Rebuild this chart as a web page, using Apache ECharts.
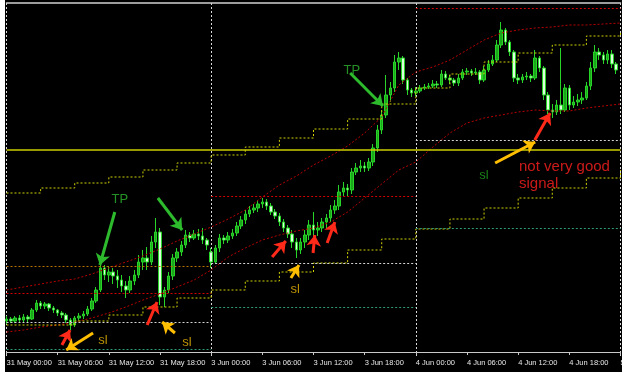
<!DOCTYPE html>
<html>
<head>
<meta charset="utf-8">
<script src="https://cdn.jsdelivr.net/npm/echarts@6.0.0/dist/echarts.min.js"></script>
<style>
  html, body { margin: 0; padding: 0; background: #fff; }
  #chart { position: absolute; left: 5px; top: 0; width: 617px; height: 372px; background: #000; }
</style>
</head>
<body>
<div id="chart"></div>
<script>
// 30 minute bars, 31 May 00:00 .. 4 Jun 23:30 (weekend skipped)
const days = ['31 May', '3 Jun', '4 Jun', '5 Jun'];

// [open, close, low, high]
const candles = [
  [31,33,28,36],[33,31,29,35],[31,34,29,36],[34,32,30,37],[32,35,30,38],[35,33,29,37],[33,42,32,44],[42,49,40,52],
  [49,46,43,51],[46,48,43,50],[48,44,41,49],[44,42,39,46],[42,39,36,43],[39,37,34,41],[37,32,29,39],[32,27,22,34],
  [27,34,25,36],[34,36,31,39],[36,38,33,41],[38,43,36,46],[43,51,41,54],[51,62,49,65],[62,84,60,89],[84,77,72,87],
  [77,80,70,86],[80,76,68,84],[76,72,64,82],[72,66,60,77],[66,62,54,71],[62,71,59,76],[71,77,67,82],[77,90,74,97],
  [90,94,82,102],[94,90,82,105],[90,110,87,116],[110,120,104,134],[120,55,47,124],[55,62,45,65],[62,76,59,80],[76,94,72,98],
  [94,100,90,104],[100,107,96,111],[107,117,104,122],[117,114,110,120],[114,118,112,122],[118,116,112,123],[116,112,108,124],[112,107,102,114],
  [100,90,84,104],[90,104,88,107],[104,114,100,118],[114,112,108,117],[112,116,109,120],[116,119,113,123],[119,126,116,130],[126,132,123,136],
  [132,138,128,142],[138,142,135,146],[142,144,139,148],[144,148,140,152],[148,150,144,154],[150,146,142,153],[146,140,137,149],[140,136,133,143],
  [136,130,126,139],[130,124,120,133],[124,118,114,127],[118,110,104,122],[110,102,94,114],[102,110,98,114],[110,117,104,122],[117,127,112,132],
  [127,122,114,140],[122,124,116,130],[124,130,120,134],[130,134,124,138],[134,142,130,147],[142,146,138,152],[146,160,142,167],[160,164,156,170],
  [164,162,156,168],[162,180,158,184],[180,184,177,189],[184,186,180,192],[186,184,180,190],[184,190,181,194],[190,204,186,208],[204,222,200,227],
  [222,237,218,242],[237,257,234,277],[257,264,250,270],[264,290,260,297],[290,294,282,300],[294,272,268,296],[272,262,257,274],[262,259,255,264],
  [259,261,256,265],[261,264,259,267],[264,265,262,268],[265,266,263,269],[266,268,264,272],[268,267,264,271],[267,278,265,282],[278,274,272,281],
  [274,272,268,277],[272,269,266,274],[269,274,266,278],[274,280,272,283],[280,281,277,284],[281,279,276,283],[279,280,277,284],[280,272,268,282],
  [272,282,270,286],[282,288,280,292],[288,292,286,297],[292,307,290,312],[307,322,304,330],[322,310,307,324],[310,300,296,312],[300,274,270,302],
  [274,272,268,278],[272,275,269,278],[275,276,272,280],[276,274,270,278],[274,294,272,302],[294,284,280,296],[284,257,252,286],[257,242,238,260],
  [242,240,234,248],[240,247,237,252],[247,242,238,304],[242,264,240,268],[264,247,242,267],[247,250,244,256],[250,252,246,258],[252,254,248,260],
  [254,266,252,270],[266,284,262,290],[284,300,280,307],[300,297,292,304],[297,292,288,300],[292,298,288,302],[298,288,284,302],[288,282,278,290]
];

// channel bands, sampled every 4 bars (bar 0, 4, 8 ... 144)
const upperBand = [62,65,68,71,73,78,84,90,96,103,111,118,125,133,142,155,167,176,187,196,206,219,235,267,280,285,292,302,312,319,322,324,325,327,327,328,329];
const lowerBand = [20,22,25,27,30,34,39,45,52,58,65,72,82,95,104,112,117,121,124,130,140,154,168,182,190,205,219,229,234,237,240,242,241,241,244,246,248];

// 4h step lines (one value per 8 bars, last one is the edge)
const upperStop = [159,164,169,175,182,189,197,205,214,223,233,248,264,278,290,299,307,316,319];
const lowerStop = [27,27,31,37,45,54,62,71,80,89,102,113,123,133,144,154,164,174,182];

// daily levels (31 May, 3 Jun, 4 Jun)
const orangeLevel = [86, null, null];
const redLevel = [59, 156, 344];
const whiteLevel = [30, 89, 212];
const tealLevel = [3, 45, 124];
const weeklyLevel = 202;

// drawn arrows: [fromBar, fromPrice, toBar, toPrice, colour]
const arrows = [
  [25.4, 140, 21.9, 87, '#2dbb2d'],
  [35.5, 154, 41.2, 122, '#2dbb2d'],
  [80.6, 279, 88.3, 246, '#2dbb2d'],
  [13.0, 7, 14.9, 22, '#ff2a1a'],
  [33.0, 27, 35.3, 50, '#ff2a1a'],
  [62.3, 95, 65.5, 111, '#ff2a1a'],
  [71.9, 99, 72.3, 117, '#ff2a1a'],
  [75.2, 109, 77.0, 130, '#ff2a1a'],
  [123.9, 212, 127.5, 239, '#ff2a1a'],
  [20.3, 19, 14.0, 2, '#ffbf00'],
  [39.5, 19, 36.5, 30, '#ffbf00'],
  [66.7, 74, 68.6, 87, '#ffbf00'],
  [114.6, 189, 124.0, 210, '#ffbf00']
];

// text notes: [bar, price, text, colour, size, align]
const notes = [
  [26.6, 153, 'TP', '#2db52d', 13, 'center'],
  [81.0, 282, 'TP', '#2db52d', 13, 'center'],
  [22.6, 12, 'sl', '#e8b400', 13, 'center'],
  [42.3, 10, 'sl', '#e8b400', 13, 'center'],
  [67.7, 63, 'sl', '#e8b400', 13, 'center'],
  [112.0, 177, 'sl', '#1fa01f', 13, 'center'],
  [120.2, 185, 'not very good', '#ff2020', 15, 'left'],
  [120.2, 168, 'signal', '#ff2020', 15, 'left']
];

const times = [];
for (let d = 0; d < 3; d++) {
  for (let h = 0; h < 48; h++) {
    times.push(days[d] + ' ' + String(Math.floor(h / 2)).padStart(2, '0') + ':' + (h % 2 ? '30' : '00'));
  }
}
times.push(days[3] + ' 00:00');

const bandData = (arr) => arr.map((v, i) => [i * 4, v]);
const stopData = (arr) => arr.map((v, i) => [i * 8, v]);
const dots = [2, 2];

function levelSegs(arr, color) {
  const out = [];
  arr.forEach((v, d) => {
    if (v == null) return;
    out.push([
      { coord: [d * 48, v], lineStyle: { color: color, type: dots, width: 1 } },
      { coord: [d * 48 + 48, v] }
    ]);
  });
  return out;
}

const myChart = echarts.init(document.getElementById('chart'));
const option = {
  backgroundColor: '#000',
  animation: false,
  grid: { left: 1.5, right: 1.5, top: 3, bottom: 16, containLabel: false, outerBoundsMode: 'none' },
  xAxis: [{
    type: 'category',
    data: times,
    boundaryGap: false,
    axisLine: { lineStyle: { color: '#c8c8c8', width: 1 } },
    axisTick: { interval: 11, length: 3, lineStyle: { color: '#c8c8c8' } },
    axisLabel: {
      interval: 11,
      align: 'left',
      margin: 3,
      color: '#e6e6e6',
      fontSize: 7.5,
      fontFamily: 'Liberation Sans',
      showMaxLabel: true,
      hideOverlap: false
    },
    splitLine: {
      show: true,
      interval: (i) => i % 48 === 0,
      lineStyle: { color: '#d8d8d8', type: dots, width: 1 }
    }
  }, {
    type: 'value',
    min: 0,
    max: 144,
    position: 'top',
    axisLine: { show: true, lineStyle: { color: '#d0d0d0', width: 1.5 } },
    axisTick: { show: false },
    axisLabel: { show: false },
    splitLine: { show: false }
  }],
  yAxis: {
    type: 'value',
    min: -4,
    max: 349,
    show: false,
    splitLine: { show: false }
  },
  series: [{
    name: 'price',
    type: 'candlestick',
    data: candles,
    barWidth: 3,
    itemStyle: {
      color: '#1aa81a',
      color0: '#dcffdc',
      borderColor: '#28d428',
      borderColor0: '#28d428',
      borderWidth: 1
    },
    z: 2
  }, {
    name: 'upper band',
    type: 'line',
    xAxisIndex: 1,
    data: bandData(upperBand),
    symbol: 'none',
    lineStyle: { color: '#b80000', type: dots, width: 1 },
    z: 3,
    markLine: {
      silent: true,
      symbol: ['none', 'arrow'],
      symbolSize: 11,
      label: { show: false },
      data: arrows.map(a => [
        { coord: [a[0], a[1]], lineStyle: { color: a[4], type: 'solid', width: 3 }, itemStyle: { color: a[4] } },
        { coord: [a[2], a[3]] }
      ]),
      z: 6
    }
  }, {
    name: 'lower band',
    type: 'line',
    xAxisIndex: 1,
    data: bandData(lowerBand),
    symbol: 'none',
    lineStyle: { color: '#b80000', type: dots, width: 1 },
    z: 3,
    markLine: {
      silent: true,
      symbol: 'none',
      label: { show: false },
      data: [].concat(
        levelSegs(orangeLevel, '#b87000'),
        levelSegs(redLevel, '#d00000'),
        levelSegs(whiteLevel, '#d4d4d4'),
        levelSegs(tealLevel, '#2e9a76'),
        [[
          { coord: [0, weeklyLevel], lineStyle: { color: '#cccc00', type: 'solid', width: 1.5 } },
          { coord: [144, weeklyLevel] }
        ]]
      )
    }
  }, {
    name: 'upper stop',
    type: 'line',
    xAxisIndex: 1,
    step: 'end',
    data: stopData(upperStop),
    symbol: 'none',
    lineStyle: { color: '#d0d000', type: dots, width: 1 },
    z: 4
  }, {
    name: 'lower stop',
    type: 'line',
    xAxisIndex: 1,
    step: 'end',
    data: stopData(lowerStop),
    symbol: 'none',
    lineStyle: { color: '#d0d000', type: dots, width: 1 },
    z: 4
  }, {
    name: 'notes',
    type: 'scatter',
    xAxisIndex: 1,
    symbolSize: 1,
    itemStyle: { color: 'transparent' },
    z: 7,
    data: notes.map(n => ({
      value: [n[0], n[1]],
      label: {
        show: true,
        position: 'inside',
        formatter: n[2],
        color: n[3],
        fontSize: n[4],
        align: n[5],
        fontFamily: 'Liberation Sans'
      }
    }))
  }]
};
myChart.setOption(option);
</script>
</body>
</html>
